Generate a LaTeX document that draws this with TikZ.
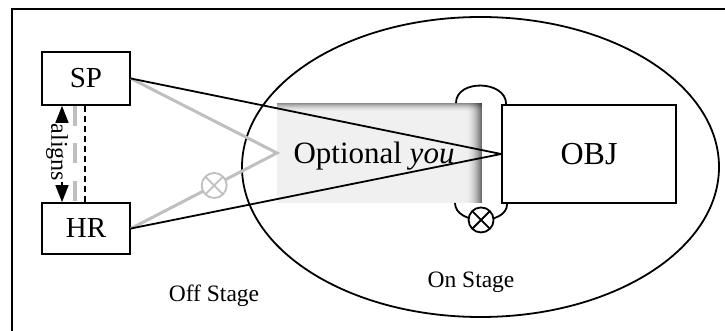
\documentclass[tikz,border=0pt]{standalone}
\usepackage{fontspec}
\setmainfont{Liberation Serif}
\usetikzlibrary{arrows.meta}

\begin{document}
\begin{tikzpicture}[x=1pt,y=-1pt,
  box/.style={draw, line width=1.8pt, inner sep=0pt, font=\fontsize{29}{30}\selectfont},
  link/.style={line width=1.8pt},
  faint/.style={line width=3pt, draw=black!25},
  crosscircle/.style={circle, draw, fill=white, minimum size=25pt, inner sep=0pt, line width=1.8pt,
    path picture={\draw[line width=1.8pt]
      (path picture bounding box.north west) -- (path picture bounding box.south east)
      (path picture bounding box.south west) -- (path picture bounding box.north east);}},
  stagelabel/.style={font=\fontsize{23.5}{25}\selectfont},
  tip/.tip={Triangle[length=17pt,width=13pt]}
]
\useasboundingbox (0,0) rectangle (725,331);
\clip (0,0) rectangle (725,331);
\fill[white] (0,0) rectangle (725,331);

% outer frame
\draw[line width=2pt] (12,9.5) rectangle (745,350);

% stage
\draw[line width=1.8pt] (480.5,167) ellipse [x radius=238.5, y radius=150];

% shaded area behind the label, with an inner shadow along the top and right
\node[minimum width=205pt, minimum height=100pt, inner sep=0pt, outer sep=0pt, fill=black!6] (opt) at (379.5,153) {};
\foreach \i in {0,...,15} {
  \pgfmathsetmacro\op{0.55*(1-\i/16)^2}
  \pgfmathsetmacro\xa{-\i}
  \pgfmathsetmacro\xb{-\i-1}
  \fill[black, opacity=\op] ([xshift=\xb pt]opt.north east) rectangle ([xshift=\xa pt]opt.south east);
}
\foreach \i in {0,...,8} {
  \pgfmathsetmacro\op{0.42*(1-\i/9)^2}
  \pgfmathsetmacro\ya{-\i}
  \pgfmathsetmacro\yb{-\i-1}
  \fill[black, opacity=\op] ([yshift=\ya pt]opt.north west) rectangle ([yshift=\yb pt]opt.north east);
}

% participants
\node[box, minimum width=88pt, minimum height=53pt] (sp) at (86,78.5) {SP};
\node[box, minimum width=88pt, minimum height=51pt] (hr) at (86,228.5) {HR};
\node[box, minimum width=174pt, minimum height=98pt, font=\fontsize{32}{33}\selectfont] (obj) at (589,154) {OBJ};

% gray path through the optional "you"
\draw[faint] (sp.east) -- (opt.west) -- (hr.east)
  node[pos=0.43, crosscircle, draw=black!25] (x1) {};

% direct links to the object
\draw[link] (sp.east) -- (obj.west);
\draw[link] (hr.east) -- (obj.west);

\node[font=\fontsize{31}{32}\selectfont] (optlabel) at (374,156) {Optional \textit{you}};

% alignment between SP and HR
\draw[line width=1.5pt, dash pattern=on 6pt off 4pt] ([xshift=-1pt]sp.south) -- ([xshift=-1pt]hr.north);
\draw[line width=4.5pt, draw=black!25, dash pattern=on 20pt off 17.5pt] ([xshift=-11pt]sp.south) -- ([xshift=-11pt]hr.north);
\draw[line width=1.5pt, tip-tip] ([xshift=-24pt]sp.south) -- ([xshift=-24pt]hr.north);
\node[rotate=-90, fill=white, inner sep=1pt, font=\fontsize{24}{25}\selectfont] (al) at (57,152.5) {aligns};

% loops at the object
\draw[link] ([xshift=-26pt]opt.north east) .. controls +(0,-24) and +(0,-24) .. ([xshift=5pt]obj.north west);
\draw[link] ([xshift=-27pt]opt.south east) .. controls +(0,22) and +(0,22) .. ([xshift=6pt]obj.south west)
  node[pos=0.5, crosscircle] (x2) {};

% region labels
\node[stagelabel] (off) at (214,296) {Off Stage};
\node[stagelabel] (on) at (471,282) {On Stage};
\end{tikzpicture}
\end{document}
